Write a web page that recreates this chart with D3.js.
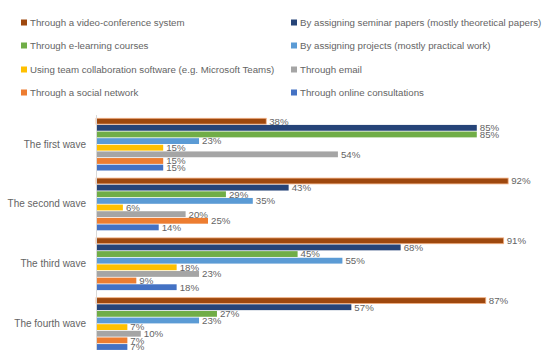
<!DOCTYPE html>
<html>
<head>
<meta charset="utf-8">
<script src="https://cdn.jsdelivr.net/npm/d3@7"></script>
<style>
  body { margin: 0; background: #fff; }
  text { font-family: "Liberation Sans", Arial, sans-serif; }
</style>
</head>
<body>
<div id="main"></div>
<script>
const w = 545;
const h = 350;

// data
const waves = ['The first wave', 'The second wave', 'The third wave', 'The fourth wave'];
const methods = [
  'Through a video-conference system',
  'By assigning seminar papers (mostly theoretical papers)',
  'Through e-learning courses',
  'By assigning projects (mostly practical work)',
  'Using team collaboration software (e.g. Microsoft Teams)',
  'Through email',
  'Through a social network',
  'Through online consultations'
];
const colors = ['#9E480E', '#264478', '#70AD47', '#5B9BD5', '#FFC000', '#A5A5A5', '#ED7D31', '#4472C4'];
const videoConf   = [38, 92, 91, 87];
const seminar     = [85, 43, 68, 57];
const elearning   = [85, 29, 45, 27];
const projects    = [23, 35, 55, 23];
const teamSoft    = [15, 6, 18, 7];
const email       = [54, 20, 23, 10];
const social      = [15, 25, 9, 7];
const consults    = [15, 14, 18, 7];
const series = [videoConf, seminar, elearning, projects, teamSoft, email, social, consults];

const svg = d3.select('#main')
  .append('svg')
  .attr('width', w)
  .attr('height', h);

// legend, two columns
const legendX = [21, 291];
const legendY = [22.5, 45.5, 69.5, 92.5];
const legend = svg.append('g').attr('class', 'legend');
methods.forEach((m, i) => {
  const col = i % 2, row = Math.floor(i / 2);
  const g = legend.append('g')
    .attr('transform', 'translate(' + legendX[col] + ',' + legendY[row] + ')');
  g.append('rect')
    .attr('x', 0).attr('y', -3)
    .attr('width', 6).attr('height', 6)
    .attr('fill', colors[i]);
  g.append('text')
    .attr('x', 9).attr('y', 0)
    .attr('dy', '0.35em')
    .attr('font-size', '9.7px')
    .attr('fill', '#646464')
    .text(m);
});

const xScale = d3.scaleLinear()
  .domain([0, 100])
  .range([96, 544]);

const y0 = d3.scaleBand()
  .domain(waves)
  .range([114.5, 353.7])
  .paddingInner(0.1)
  .paddingOuter(0.05);

const y1 = d3.scaleBand()
  .domain(d3.range(methods.length))
  .range([0, y0.bandwidth()])
  .padding(0.12);

const groups = svg.selectAll('g.wave')
  .data(waves)
  .enter()
  .append('g')
  .attr('class', 'wave')
  .attr('transform', d => 'translate(0,' + y0(d) + ')');

groups.selectAll('rect')
  .data((d, wi) => series.map((s, si) => ({ si: si, v: s[wi] })))
  .enter()
  .append('rect')
  .attr('x', xScale(0))
  .attr('y', d => y1(d.si))
  .attr('width', d => xScale(d.v) - xScale(0))
  .attr('height', y1.bandwidth())
  .attr('fill', d => colors[d.si])
  .attr('stroke', d => d.si === 0 ? '#F4B183' : 'none')
  .attr('stroke-width', 0.8);

groups.selectAll('text.val')
  .data((d, wi) => series.map((s, si) => ({ si: si, v: s[wi] })))
  .enter()
  .append('text')
  .attr('class', 'val')
  .attr('x', d => xScale(d.v) + 3)
  .attr('y', d => y1(d.si) + y1.bandwidth() / 2)
  .attr('dy', '0.35em')
  .attr('font-size', '9.7px')
  .attr('fill', '#646464')
  .text(d => d.v + '%');

// category axis
const yAxis = d3.axisLeft(y0).tickSize(0).tickPadding(10);
const ax = svg.append('g')
  .attr('transform', 'translate(' + xScale(0) + ',0)')
  .call(yAxis);
ax.select('.domain').attr('stroke', '#D9D9D9');
ax.selectAll('text')
  .attr('font-size', '10px')
  .attr('fill', '#646464')
  .style('font-family', '"Liberation Sans", Arial, sans-serif');
</script>
</body>
</html>
